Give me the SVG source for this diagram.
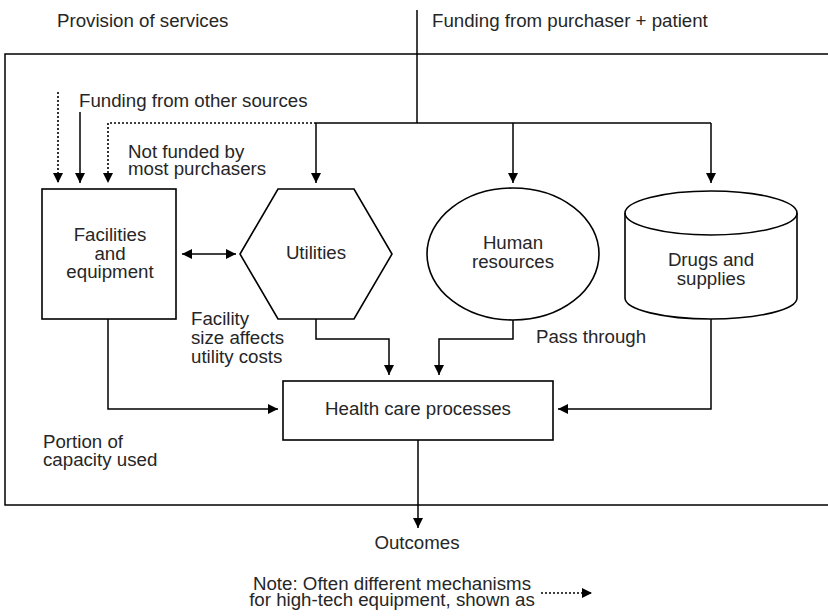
<svg xmlns="http://www.w3.org/2000/svg" width="828" height="616" viewBox="0 0 828 616">
<style>
text{font-family:"Liberation Sans",Arial,sans-serif;font-size:18.7px;fill:#262626}
.c{text-anchor:middle}
.s{fill:none;stroke:#000;stroke-width:1.5}
.d{fill:none;stroke:#000;stroke-width:1.6;stroke-dasharray:2,2}
.n{fill:#fff;stroke:#000;stroke-width:1.6}
</style>
<defs>
<marker id="a" viewBox="0 0 10 10" refX="10" refY="5" markerWidth="10" markerHeight="10" markerUnits="userSpaceOnUse" orient="auto-start-reverse"><path d="M0,0 L10,5 L0,10 Z" fill="#000"/></marker>
</defs>
<rect x="5" y="54" width="830" height="451" class="s"/>
<text x="57" y="27">Provision of services</text>
<text x="432" y="27">Funding from purchaser + patient</text>
<text x="79" y="107">Funding from other sources</text>
<text x="128" y="158">Not funded by</text>
<text x="128" y="175">most purchasers</text>
<text x="191" y="325">Facility</text>
<text x="191" y="344">size affects</text>
<text x="191" y="363">utility costs</text>
<text x="536" y="343">Pass through</text>
<text x="43" y="448">Portion of</text>
<text x="43" y="466">capacity used</text>
<text class="c" x="417" y="549">Outcomes</text>
<text class="c" x="392" y="590">Note: Often different mechanisms</text>
<text class="c" x="392" y="606">for high-tech equipment, shown as</text>
<g id="connectors">
<path class="s" d="M417,10 V123"/>
<path class="s" d="M316,123 H711"/>
<path class="d" d="M316,123 H108 V183" marker-end="url(#a)"/>
<path class="s" d="M316,123 V183" marker-end="url(#a)"/>
<path class="s" d="M513,123 V183" marker-end="url(#a)"/>
<path class="s" d="M711,123 V183" marker-end="url(#a)"/>
<path class="d" d="M58,92 V183" marker-end="url(#a)"/>
<path class="s" d="M80,112 V183" marker-end="url(#a)"/>
<path class="s" d="M182,254 H236" marker-start="url(#a)" marker-end="url(#a)"/>
<path class="s" d="M316,319 V339 H389 V375" marker-end="url(#a)"/>
<path class="s" d="M513,320 V339 H439 V375" marker-end="url(#a)"/>
<path class="s" d="M108,319 V409 H278" marker-end="url(#a)"/>
<path class="s" d="M711,319 V409 H558" marker-end="url(#a)"/>
<path class="s" d="M418,440 V528" marker-end="url(#a)"/>
<path class="d" d="M541,593 H592" marker-end="url(#a)"/>
</g>
<g id="facilities">
<rect class="n" x="42" y="189" width="134" height="130"/>
<text class="c" x="110" y="241">Facilities</text>
<text class="c" x="110" y="260">and</text>
<text class="c" x="110" y="278">equipment</text>
</g>
<g id="utilities">
<polygon class="n" points="278,189 354,189 392,254 354,319 278,319 240,254"/>
<text class="c" x="316" y="259">Utilities</text>
</g>
<g id="human">
<ellipse class="n" cx="513" cy="254" rx="86" ry="66"/>
<text class="c" x="513" y="249">Human</text>
<text class="c" x="513" y="268">resources</text>
</g>
<g id="drugs">
<path class="n" d="M625,213 A86,22 0 0 1 797,213 V298 A86,21 0 0 1 625,298 Z"/>
<path class="s" d="M625,213 A86,22 0 0 0 797,213"/>
<text class="c" x="711" y="266">Drugs and</text>
<text class="c" x="711" y="285">supplies</text>
</g>
<g id="health">
<rect class="n" x="283" y="381" width="270" height="59"/>
<text class="c" x="418" y="415">Health care processes</text>
</g>
</svg>
